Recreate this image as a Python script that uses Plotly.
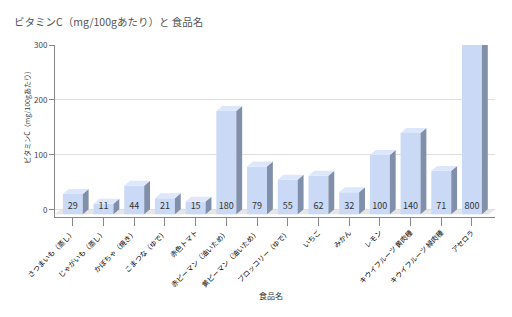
import plotly.graph_objects as go

foods = ["さつまいも（蒸し）", "じゃがいも（蒸し）", "かぼちゃ（焼き）", "こまつな（ゆで）", "赤色トマト",
         "赤ピーマン（油いため）", "黄ピーマン（油いため）", "ブロッコリー（ゆで）", "いちご", "みかん",
         "レモン", "キウイフルーツ 黄肉種", "キウイフルーツ 緑肉種", "アセロラ"]
vitc = [29, 11, 44, 21, 15, 180, 79, 55, 62, 32, 100, 140, 71, 800]
y_ticks = [0, 100, 200, 300]

YMAX = 300
YMIN = -13
BASE = -8
W = 0.65          # front face width (category units)
DX = 0.19         # depth offset in x
DY = 9            # depth offset in y
FONT = "Noto Sans CJK JP"

xs = list(range(len(foods)))
clipped = [min(v, YMAX + 20) for v in vitc]

fig = go.Figure()

# floor
fig.add_shape(type="path", xref="x", yref="y",
              path=f"M -0.58 {BASE} L {13.75 - DX} {BASE} L 13.75 {BASE + DY} L {-0.58 + DX} {BASE + DY} Z",
              fillcolor="#e6e6e6", line=dict(width=0), layer="below")

# front faces
fig.add_trace(go.Bar(x=xs, y=[v - BASE for v in clipped], base=BASE, width=W,
                     marker=dict(color="rgb(201,217,246)", line=dict(width=0)),
                     hovertext=[str(v) for v in vitc], hoverinfo="text"))

# side and top faces
sx, sy = [], []
tx, ty = [], []
for i, v in zip(xs, clipped):
    r = i + W / 2
    l = i - W / 2
    sx += [r, r + DX, r + DX, r, r, None]
    sy += [BASE, BASE + DY, v + DY, v, BASE, None]
    tx += [l, l + DX, r + DX, r, l, None]
    ty += [v, v + DY, v + DY, v, v, None]
fig.add_trace(go.Scatter(x=sx, y=sy, mode="lines", fill="toself", fillcolor="rgb(128,143,170)",
                         line=dict(width=0), hoverinfo="skip"))
fig.add_trace(go.Scatter(x=tx, y=ty, mode="lines", fill="toself", fillcolor="rgb(221,231,251)",
                         line=dict(width=0), hoverinfo="skip"))

# value labels
fig.add_trace(go.Scatter(x=xs, y=[5] * len(xs), mode="text", text=[str(v) for v in vitc],
                         textfont=dict(size=9, color="#333", family=FONT), hoverinfo="skip"))

fig.update_layout(
    width=512, height=317, margin=dict(l=55, r=17, t=45, b=100),
    paper_bgcolor="white", plot_bgcolor="white", showlegend=False,
    font=dict(family=FONT),
    title=dict(text="ビタミンC（mg/100gあたり）と 食品名", x=14 / 512, xref="container", xanchor="left",
               y=1 - 22 / 317, yref="container", yanchor="middle",
               font=dict(size=10.5, color="#555", family=FONT)),
    xaxis=dict(range=[-0.58, 13.75], tickvals=xs, ticktext=foods, tickangle=-45,
               tickfont=dict(size=7, color="#000", family=FONT), ticks="outside", ticklen=8,
               tickcolor="#888", showline=True, linecolor="#888", showgrid=False, zeroline=False),
    yaxis=dict(range=[YMIN, YMAX], tickvals=y_ticks, tickfont=dict(size=8, color="#444"),
               ticks="outside", ticklen=5, tickcolor="#888", showline=True, linecolor="#888",
               gridcolor="#dedede", zeroline=False),
    annotations=[
        dict(text="ビタミンC（mg/100gあたり）", x=-0.08, y=0.30, xref="paper", yref="paper",
             textangle=-90, showarrow=False, font=dict(size=7, color="#333", family=FONT)),
        dict(text="食品名", x=0.49, y=-0.50, xref="paper", yref="paper", showarrow=False,
             font=dict(size=8, color="#333", family=FONT)),
    ],
)

fig.write_html("out.html")
